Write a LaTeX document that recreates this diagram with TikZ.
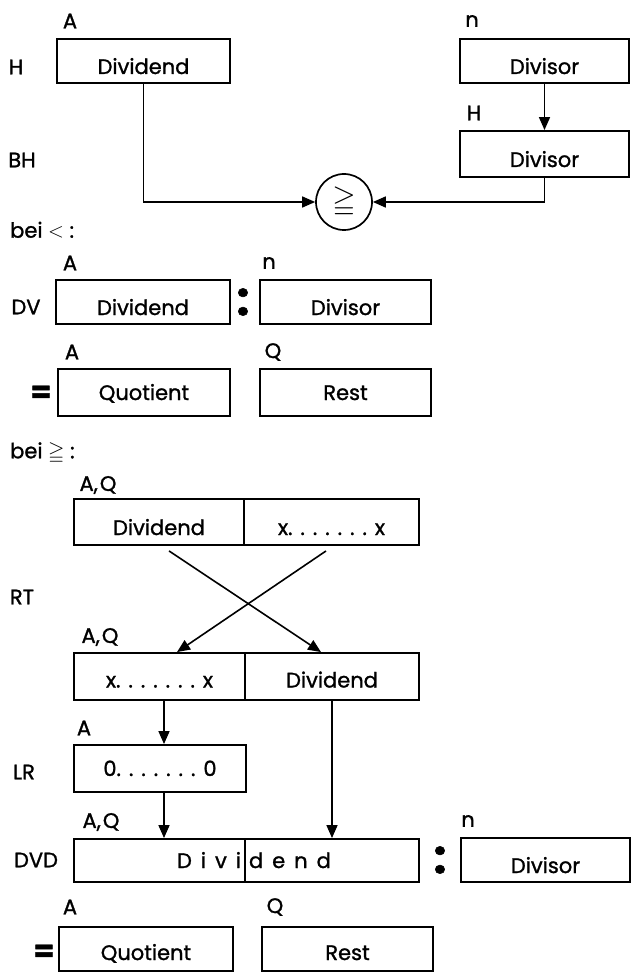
\documentclass[tikz,border=0pt]{standalone}
\usepackage{amssymb}
\usepackage{fontspec}
\setmainfont{Poppins}[FakeBold=1.2]
\usetikzlibrary{positioning,arrows.meta}

\newcommand{\dotrun}{\foreach \k in {1,...,7}{.\kern8pt}}

\begin{document}
\begin{tikzpicture}[
  x=1pt, y=-1pt,
  font=\fontsize{21}{25}\selectfont,
  reg/.style={draw, line width=1.9pt, inner sep=0pt, minimum height=44pt, text height=15pt, text depth=0pt},
  sunk/.style={text height=26pt},
  halfsunk/.style={text height=22pt},
  lbl/.style={inner sep=0pt},
  flow/.style={-{Triangle[length=13pt,width=11pt]}, line width=1.6pt},
  colon/.style={font=\fontsize{46}{46}\selectfont\bfseries, inner sep=0pt},
  eq/.style={font=\fontsize{30}{30}\selectfont\bfseries, inner sep=0pt}
]
  \fill[white] (0,0) rectangle (630,973);
  \useasboundingbox (0,0) rectangle (630,973);

  % H / BH
  \node[lbl] (labA1) at (70,21) {A};
  \node[lbl] (labH1) at (16,67) {H};
  \node[lbl] (labn1) at (472,21) {n};
  \node[lbl] (labH2) at (474,113) {H};
  \node[lbl] (labBH) at (22,160) {BH};
  \node[reg, sunk, minimum width=173pt] (dvdH) at (143.5,61) {Dividend};
  \node[reg, sunk, minimum width=169pt] (dvsH) at (544.5,61) {Divisor};
  \node[reg, sunk, minimum width=169pt, minimum height=46pt] (dvsBH) at (544.5,154) {Divisor};
  \node[draw, circle, line width=1.7pt, minimum size=56pt, inner sep=0pt] (cmp) at (344,202) {\fontsize{30}{30}\selectfont$\geqq$};
  \draw[flow] (dvsH) -- (dvsBH);
  \draw[flow] (dvdH.south) |- (cmp.west);
  \draw[flow] (dvsBH.south) |- (cmp.east);

  % DV
  \node[lbl, anchor=west] (labLt) at (10,230) {bei $<$ :};
  \node[lbl] (labA2) at (70,263) {A};
  \node[lbl] (labn2) at (269,263) {n};
  \node[lbl] (labDV) at (26,307) {DV};
  \node[reg, sunk, minimum width=174pt] (dvdDV) at (143,302) {Dividend};
  \node[colon] (colDV) at (243,302) {:};
  \node[reg, sunk, minimum width=171pt] (dvsDV) at (345.5,302) {Divisor};
  \node[lbl] (labA3) at (72,352) {A};
  \node[lbl] (labQ3) at (273,352) {Q};
  \node[eq] (eqDV) at (41,394) {=};
  \node[reg, minimum width=172pt, minimum height=47pt] (quoDV) at (144,392.5) {Quotient};
  \node[reg, minimum width=171pt, minimum height=47pt] (restDV) at (345.5,392.5) {Rest};

  % RT
  \node[lbl, anchor=west] (labGe) at (10,453) {bei $\geqq$ :};
  \node[lbl] (labAQ1) at (98,485) {A,\kern2pt Q};
  \node[reg, sunk, minimum width=170pt, minimum height=46pt] (dvdL) at (159,522) {Dividend};
  \node[reg, sunk, minimum width=175pt, minimum height=46pt] (xxR) at (331.5,522) {x\dotrun x};
  \node[lbl] (labRT) at (22,597) {RT};
  \node[lbl] (labAQ2) at (100,637) {A,\kern2pt Q};
  \node[reg, halfsunk, minimum width=171pt, minimum height=47pt] (xxL) at (159.5,676.5) {x\dotrun x};
  \node[reg, halfsunk, minimum width=174pt, minimum height=47pt] (dvdR) at (332,676.5) {Dividend};
  \draw[flow] ([xshift=10pt,yshift=-5pt]dvdL.south) -- ([xshift=-11pt]dvdR.north);
  \draw[flow] ([xshift=-5.5pt,yshift=-5pt]xxR.south) -- ([xshift=17.5pt]xxL.north);

  % LR
  \node[lbl] (labA4) at (84,728) {A};
  \node[lbl] (labLR) at (24,772) {LR};
  \node[reg, minimum width=172pt, minimum height=47pt] (nul) at (160,768.5) {0\dotrun 0};
  \draw[flow] ([xshift=4.5pt]xxL.south) -- ([xshift=4pt]nul.north);

  % DVD
  \node[lbl] (labAQ3) at (101,822) {A,\kern2pt Q};
  \node[lbl] (labn3) at (468,821) {n};
  \node[lbl] (labDVD) at (36,860) {DVD};
  \node[reg, minimum width=171pt, minimum height=43pt, text width=163pt, align=right] (dviL) at (159.5,860.5) {D\kern9pt i\kern9pt v\kern9pt i};
  \node[reg, minimum width=174pt, minimum height=43pt, text width=166pt, align=left] (dendR) at (332,860.5) {d\kern9pt e\kern9pt n\kern9pt d};
  \node[colon] (colDVD) at (440,860) {:};
  \node[reg, sunk, minimum width=169pt] (dvsDVD) at (545.5,860) {Divisor};
  \draw[flow] ([xshift=4pt]nul.south) -- ([xshift=4pt]nul.south |- dviL.north);
  \draw[flow] (dvdR.south) -- (dvdR.south |- dendR.north);
  \node[lbl] (labA5) at (70,907) {A};
  \node[lbl] (labQ5) at (275,907) {Q};
  \node[eq] (eqEnd) at (44,953) {=};
  \node[reg, halfsunk, minimum width=174pt] (quoEnd) at (146,949) {Quotient};
  \node[reg, halfsunk, minimum width=171pt] (restEnd) at (347.5,949) {Rest};
\end{tikzpicture}
\end{document}
